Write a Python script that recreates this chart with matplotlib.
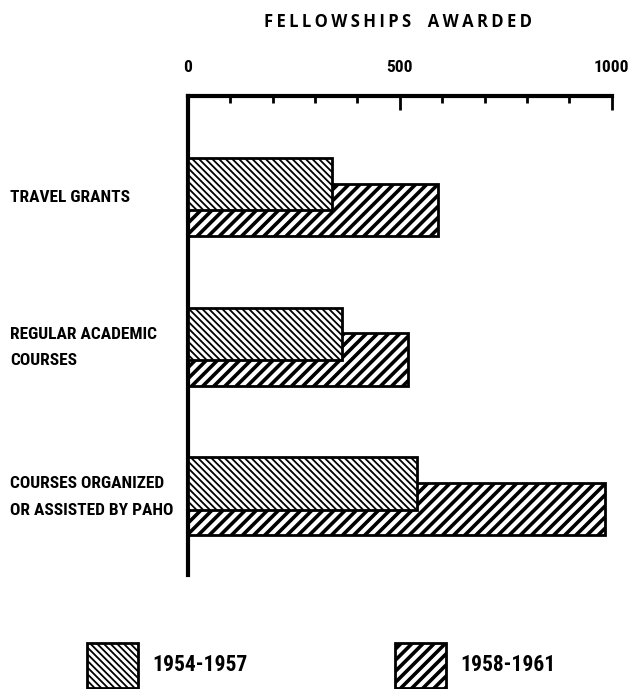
import numpy as np
import matplotlib.pyplot as plt
import matplotlib.transforms as mtransforms
from matplotlib.patches import Rectangle
from matplotlib.ticker import MultipleLocator

# Data
categories = ['TRAVEL GRANTS', 'REGULAR ACADEMIC\nCOURSES', 'COURSES ORGANIZED\nOR ASSISTED BY PAHO']
early = [340, 365, 540]    # 1954-1957
late = [590, 520, 985]     # 1958-1961
periods = ['1954-1957', '1958-1961']

LABEL_FONT = ['Roboto Condensed', 'Roboto', 'DejaVu Sans']
H_EARLY = '\\\\\\\\\\'
H_LATE = '///'

fig = plt.figure(figsize=(6.28, 6.89), dpi=100)
ax = fig.add_axes([0.299, 0.1655, 0.675, 0.6952])

y = np.arange(len(categories))
h = 0.35


def hatched_bar(ax, ys, vals, hatch, hlw, z):
    bars = ax.barh(ys, vals, height=h, color='white', edgecolor='black',
                   linewidth=2, hatch=hatch, zorder=z)
    for b in bars:
        try:
            b.set_hatch_linewidth(hlw)
        except AttributeError:
            pass
    return bars


plt.rcParams['hatch.linewidth'] = 1.3
hatched_bar(ax, y + 0.08, late, H_LATE, 2.6, 2)
hatched_bar(ax, y - 0.09, early, H_EARLY, 1.3, 3)

ax.set_xlim(0, 1000)
ax.set_ylim(2.52, -0.68)
ax.spines['right'].set_visible(False)
ax.spines['bottom'].set_visible(False)
ax.spines['left'].set_linewidth(3)
ax.spines['top'].set_linewidth(3)
ax.xaxis.tick_top()
ax.xaxis.set_major_locator(MultipleLocator(500))
ax.xaxis.set_minor_locator(MultipleLocator(100))
ax.tick_params(axis='x', which='major', direction='in', length=10, width=2, pad=15)
ax.tick_params(axis='x', which='minor', direction='in', length=5, width=2)
ax.set_yticks([])
for t in ax.get_xticklabels():
    t.set_fontfamily(LABEL_FONT)
    t.set_fontweight('bold')
    t.set_fontsize(12.5)
# pull the "1000" label in a little so it stays inside the page
last = ax.get_xticklabels()[-1]
last.set_transform(last.get_transform() +
                   mtransforms.ScaledTranslation(-4 / 100, 0, fig.dpi_scale_trans))

# category labels, left aligned at the page edge
for yi, lab in zip(y, categories):
    ax.annotate(lab, xy=(10 / 628, yi), xycoords=('figure fraction', 'data'),
                ha='left', va='center', fontsize=12.5, fontweight='bold',
                family=LABEL_FONT, linespacing=1.95)

title = '\u2009'.join('FELLOWSHIPS') + '\u2003' + '\u2009'.join('AWARDED')
fig.text(0.633, 1 - 22 / 689, title, ha='center', va='center',
         fontsize=12, fontweight='bold', family=['Open Sans', 'DejaVu Sans'])

# legend boxes
box_x = [87, 395]
box_hatch = [H_EARLY, H_LATE]
box_hlw = [1.3, 2.6]
for bx, hatch, hlw, per in zip(box_x, box_hatch, box_hlw, periods):
    r = Rectangle((bx / 628, 1 - 688 / 689), 51 / 628, 45 / 689, transform=fig.transFigure,
                  facecolor='white', edgecolor='black', linewidth=2, hatch=hatch)
    try:
        r.set_hatch_linewidth(hlw)
    except AttributeError:
        pass
    fig.add_artist(r)
    fig.text((bx + 65) / 628, 1 - 665 / 689, per, ha='left', va='center',
             fontsize=15.5, fontweight='bold', family=LABEL_FONT)

plt.savefig('out.png', dpi=100)
